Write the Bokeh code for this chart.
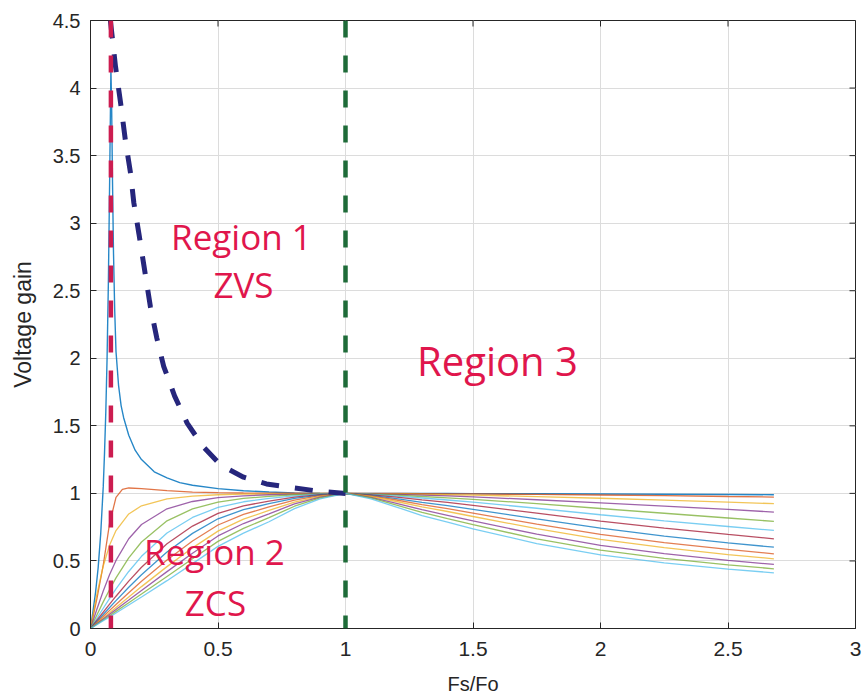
from bokeh.plotting import figure
from bokeh.models import Range1d, Label, FixedTicker, Span
from bokeh.embed import file_html
from bokeh.resources import INLINE

# ---------------- data ----------------
XTICKS = [0, 0.5, 1, 1.5, 2, 2.5, 3]
XTICK_LABELS = ["0", "0.5", "1", "1.5", "2", "2.5", "3"]
YTICKS = [0, 0.5, 1, 1.5, 2, 2.5, 3, 3.5, 4, 4.5]
YTICK_LABELS = ["0", "0.5", "1", "1.5", "2", "2.5", "3", "3.5", "4", "4.5"]

# curve 1 (lowest Q, resonant spike)
FN_1 = [0, 0.01, 0.02, 0.03, 0.04, 0.05, 0.055, 0.06, 0.065, 0.07, 0.075, 0.08,
        0.083, 0.086, 0.09, 0.095, 0.1, 0.11, 0.12, 0.13, 0.15, 0.175, 0.2,
        0.25, 0.3, 0.35, 0.4, 0.5, 0.6, 0.7, 0.8, 0.9, 1.0,
        1.1, 1.2, 1.3, 1.4, 1.5, 1.75, 2.0, 2.25, 2.5, 2.68]
GAIN_1 = [0, 0.13, 0.27, 0.45, 0.7, 1.05, 1.3, 1.6, 2.0, 2.55, 3.3, 4.15,
          3.85, 3.35, 2.8, 2.35, 2.05, 1.8, 1.65, 1.56, 1.43, 1.32, 1.25,
          1.16, 1.115, 1.08, 1.06, 1.035, 1.02, 1.01, 1.004, 1.001, 1.0,
          1.0, 0.999, 0.999, 0.999, 0.998, 0.997, 0.996, 0.994, 0.992, 0.99]

# curve 2 (small overshoot)
FN_2 = [0, 0.025, 0.05, 0.075, 0.1, 0.125, 0.15, 0.2, 0.3, 0.4, 0.5, 0.6, 0.7,
        0.8, 0.9, 1.0, 1.1, 1.2, 1.3, 1.4, 1.5, 1.75, 2.0, 2.25, 2.5, 2.68]
GAIN_2 = [0, 0.22, 0.47, 0.78, 0.97, 1.03, 1.04, 1.035, 1.02, 1.01, 1.005, 1.003,
          1.002, 1.001, 1.0, 1.0, 1.0, 0.999, 0.998, 0.997, 0.996, 0.992, 0.988,
          0.983, 0.977, 0.973]

# curves 3..13 share one frequency axis
FN_FAN = [0, 0.025, 0.05, 0.075, 0.1, 0.15, 0.2, 0.3, 0.4, 0.5, 0.6, 0.7, 0.8,
          0.9, 1.0, 1.1, 1.2, 1.3, 1.4, 1.5, 1.75, 2.0, 2.25, 2.5, 2.68]
GAIN_3 = [0, 0.252, 0.463, 0.618, 0.725, 0.848, 0.908, 0.960, 0.980, 0.990, 0.994, 0.997, 0.998,
          0.9995, 1.0, 0.998, 0.996, 0.993, 0.990, 0.987, 0.976, 0.964, 0.950, 0.935, 0.924]
GAIN_4 = [0, 0.143, 0.278, 0.400, 0.504, 0.664, 0.770, 0.886, 0.940, 0.968, 0.982, 0.990, 0.995,
          0.998, 1.0, 0.997, 0.992, 0.987, 0.981, 0.974, 0.953, 0.930, 0.906, 0.881, 0.862]
GAIN_5 = [0, 0.100, 0.197, 0.289, 0.375, 0.523, 0.640, 0.797, 0.885, 0.936, 0.963, 0.978, 0.990,
          0.996, 1.0, 0.995, 0.987, 0.977, 0.967, 0.956, 0.924, 0.888, 0.853, 0.818, 0.793]
GAIN_6 = [0, 0.076, 0.150, 0.223, 0.293, 0.422, 0.534, 0.707, 0.822, 0.896, 0.938, 0.963, 0.982,
          0.994, 1.0, 0.992, 0.980, 0.966, 0.951, 0.935, 0.890, 0.842, 0.797, 0.755, 0.726]
GAIN_7 = [0, 0.061, 0.121, 0.181, 0.239, 0.351, 0.453, 0.627, 0.758, 0.852, 0.908, 0.943, 0.973,
          0.991, 1.0, 0.989, 0.972, 0.952, 0.933, 0.912, 0.854, 0.795, 0.743, 0.696, 0.664]
GAIN_8 = [0, 0.052, 0.104, 0.155, 0.206, 0.305, 0.398, 0.566, 0.704, 0.812, 0.879, 0.924, 0.963,
          0.987, 1.0, 0.985, 0.961, 0.934, 0.909, 0.882, 0.811, 0.743, 0.684, 0.634, 0.602]
GAIN_9 = [0, 0.045, 0.089, 0.134, 0.178, 0.264, 0.349, 0.507, 0.648, 0.766, 0.844, 0.900, 0.950,
          0.983, 1.0, 0.981, 0.951, 0.917, 0.887, 0.854, 0.772, 0.697, 0.636, 0.585, 0.553]
GAIN_10 = [0, 0.039, 0.078, 0.117, 0.156, 0.233, 0.310, 0.458, 0.597, 0.721, 0.809, 0.874, 0.936,
           0.978, 1.0, 0.977, 0.940, 0.901, 0.866, 0.829, 0.739, 0.660, 0.598, 0.547, 0.516]
GAIN_11 = [0, 0.035, 0.070, 0.106, 0.141, 0.211, 0.282, 0.421, 0.557, 0.685, 0.777, 0.849, 0.922,
           0.972, 1.0, 0.971, 0.926, 0.879, 0.838, 0.796, 0.698, 0.616, 0.554, 0.504, 0.474]
GAIN_12 = [0, 0.032, 0.063, 0.095, 0.127, 0.191, 0.255, 0.385, 0.516, 0.645, 0.741, 0.820, 0.905,
           0.966, 1.0, 0.966, 0.913, 0.859, 0.813, 0.768, 0.663, 0.580, 0.519, 0.471, 0.442]
GAIN_13 = [0, 0.029, 0.058, 0.086, 0.115, 0.174, 0.233, 0.354, 0.480, 0.608, 0.706, 0.790, 0.887,
           0.959, 1.0, 0.959, 0.899, 0.836, 0.787, 0.737, 0.629, 0.545, 0.485, 0.440, 0.412]

# boundary (dashed navy) curve
FN_BOUND = [0.078, 0.098, 0.118, 0.137, 0.157, 0.17, 0.19, 0.21, 0.235, 0.26, 0.287,
            0.33, 0.379, 0.44, 0.51, 0.6, 0.69, 0.8, 0.9, 1.0]
GAIN_BOUND = [4.5, 4.16, 3.89, 3.61, 3.37, 3.15, 2.92, 2.68, 2.38, 2.15, 1.94,
              1.72, 1.52, 1.35, 1.21, 1.12, 1.07, 1.04, 1.015, 1.0]

FS_ZCS_LIMIT = 0.08   # red dashed vertical
FS_RESONANCE = 1.0    # green dashed vertical

MATLAB_COLORS = ["#0072BD", "#D95319", "#EDB120", "#7E2F8E", "#77AC30", "#4DBEEE", "#A2142F"]

# ---------------- figure ----------------
W, H = 866, 698
BL, BR, BT, BB = 90, 11, 20, 70
X0, X1, Y0, Y1 = 0, 3, 0, 4.5
p = figure(width=W, height=H, x_range=Range1d(X0, X1), y_range=Range1d(Y0, Y1),
           output_backend="svg", toolbar_location=None,
           min_border_left=BL, min_border_right=BR, min_border_top=BT, min_border_bottom=BB)
p.background_fill_color = "white"
p.border_fill_color = "white"
p.outline_line_color = "#262626"
p.outline_line_width = 1
p.outline_line_alpha = 1

AX_COLOR = "#262626"
TICK_PX = 6
for ax, ticks, labels in ((p.xaxis[0], XTICKS, XTICK_LABELS), (p.yaxis[0], YTICKS, YTICK_LABELS)):
    ax.ticker = FixedTicker(ticks=ticks)
    ax.major_label_overrides = {t: l for t, l in zip(ticks, labels)}
    ax.major_tick_in = TICK_PX
    ax.major_tick_out = 0
    ax.minor_tick_line_color = None
    ax.axis_line_color = AX_COLOR
    ax.major_tick_line_color = AX_COLOR
    ax.major_label_text_color = AX_COLOR
    ax.major_label_text_font = "Liberation Sans"
    ax.axis_label_text_font = "Liberation Sans"
    ax.axis_label_text_font_style = "normal"
    ax.axis_label_text_color = AX_COLOR

p.xaxis.axis_label = "Fs/Fo"
p.yaxis.axis_label = "Voltage gain"
p.xaxis.major_label_text_font_size = "21px"
p.yaxis.major_label_text_font_size = "20px"
p.xaxis.axis_label_text_font_size = "20px"
p.yaxis.axis_label_text_font_size = "23px"
p.xaxis.major_label_standoff = 13
p.xaxis.axis_label_standoff = 14
p.yaxis.major_label_standoff = 10
p.yaxis.axis_label_standoff = 14

p.xgrid.grid_line_color = "#dcdcdc"
p.ygrid.grid_line_color = "#dcdcdc"
p.xgrid.grid_line_width = 1
p.ygrid.grid_line_width = 1

# box ticks on the top and right edges (MATLAB "box on")
tick_dy = TICK_PX * (Y1 - Y0) / (H - BT - BB)
tick_dx = TICK_PX * (X1 - X0) / (W - BL - BR)
p.segment(x0=XTICKS, y0=[Y1] * len(XTICKS), x1=XTICKS, y1=[Y1 - tick_dy] * len(XTICKS),
          line_color=AX_COLOR, line_width=1)
p.segment(x0=[X1] * len(YTICKS), y0=YTICKS, x1=[X1 - tick_dx] * len(YTICKS), y1=YTICKS,
          line_color=AX_COLOR, line_width=1)

# ---------------- curves ----------------
p.line(FN_1, GAIN_1, line_color=MATLAB_COLORS[0], line_width=1.4, line_alpha=0.85)
p.line(FN_2, GAIN_2, line_color=MATLAB_COLORS[1], line_width=1.3, line_alpha=0.8)
fan = [GAIN_3, GAIN_4, GAIN_5, GAIN_6, GAIN_7, GAIN_8, GAIN_9, GAIN_10, GAIN_11, GAIN_12, GAIN_13]
for i, g in enumerate(fan):
    p.line(FN_FAN, g, line_color=MATLAB_COLORS[(i + 2) % 7], line_width=1.3, line_alpha=0.75)

p.add_layout(Span(location=FS_ZCS_LIMIT, dimension="height", line_color="#CC1C50",
                  line_width=4.5, line_dash="17 18"))
p.add_layout(Span(location=FS_RESONANCE, dimension="height", line_color="#1E6B38",
                  line_width=4.5, line_dash="17 18"))
p.line(FN_BOUND, GAIN_BOUND, line_color="#26267C", line_width=5, line_dash="18 16")

# ---------------- region labels ----------------
RED = "#E0164C"
for txt, x, y, size in (("Region 1", 0.592, 2.904, "35px"),
                        ("ZVS", 0.60, 2.548, "35px"),
                        ("Region 3", 1.596, 1.985, "40px"),
                        ("Region 2", 0.486, 0.573, "35px"),
                        ("ZCS", 0.49, 0.195, "35px")):
    p.add_layout(Label(x=x, y=y, text=txt, text_align="center", text_baseline="alphabetic",
                       text_font="Open Sans", text_font_size=size, text_color=RED))

open("out.html", "w").write(file_html(p, INLINE))
